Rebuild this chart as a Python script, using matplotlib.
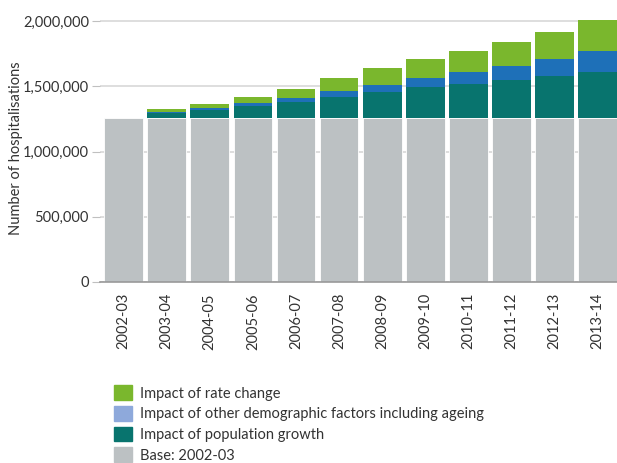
import numpy as np
import matplotlib.pyplot as plt
from matplotlib.patches import Patch
from matplotlib.ticker import FuncFormatter

plt.rcParams['font.family'] = ['Lato', 'DejaVu Sans']

years = ['2002-03', '2003-04', '2004-05', '2005-06', '2006-07', '2007-08',
         '2008-09', '2009-10', '2010-11', '2011-12', '2012-13', '2013-14']
base = [1260000] * 12
pop_growth = [0, 38000, 61000, 91000, 122000, 160000, 199000, 237000, 260000, 291000, 321000, 352000]
other_demog = [0, 3000, 15000, 23000, 31000, 46000, 54000, 69000, 92000, 107000, 130000, 161000]
rate_change = [0, 23000, 31000, 46000, 69000, 100000, 130000, 146000, 161000, 184000, 207000, 238000]

c_base = '#bcc1c3'
c_pop = '#08746e'
c_other = '#1e70b8'
c_other_legend = '#8ea9db'
c_rate = '#7ab72d'
text_col = '#333333'

fig = plt.figure(figsize=(6.17, 4.63), dpi=100)
ax = fig.add_axes([0.162, 0.391, 0.838, 0.577])

x = np.arange(len(years))
w = 0.9
b0 = np.array(base)
b1 = b0 + np.array(pop_growth)
b2 = b1 + np.array(other_demog)
ax.bar(x, base, w, color=c_base, edgecolor='white', linewidth=0.6, zorder=2)
ax.bar(x, pop_growth, w, bottom=b0, color=c_pop, linewidth=0, zorder=2)
ax.bar(x, other_demog, w, bottom=b1, color=c_other, linewidth=0, zorder=2)
ax.bar(x, rate_change, w, bottom=b2, color=c_rate, linewidth=0, zorder=2)

ax.set_xlim(-0.55, 11.45)
ax.set_ylim(0, 2050000)
ax.set_yticks([0, 500000, 1000000, 1500000, 2000000])
ax.yaxis.set_major_formatter(FuncFormatter(lambda v, p: f'{int(v):,}'))
ax.grid(axis='y', color='#d8d8d8', linewidth=1.2, zorder=0)
for s in ['top', 'right', 'left']:
    ax.spines[s].set_visible(False)
ax.spines['bottom'].set_color('#999999')
ax.spines['bottom'].set_linewidth(1.2)
ax.tick_params(axis='y', length=6, color='#c0c0c0', labelsize=10.5, labelcolor=text_col, pad=2)
ax.tick_params(axis='x', length=0, labelsize=10.5, labelcolor=text_col, pad=8)
ax.set_xticks(x)
ax.set_xticklabels(years, rotation=90)
ax.set_ylabel('Number of hospitalisations', fontsize=10.5, color=text_col)
ax.yaxis.set_label_coords(-0.149, 0.5)

handles = [Patch(color=c_rate), Patch(color=c_other_legend), Patch(color=c_pop), Patch(color=c_base)]
labels = ['Impact of rate change', 'Impact of other demographic factors including ageing',
          'Impact of population growth', 'Base: 2002-03']
fig.legend(handles, labels, loc='upper left', bbox_to_anchor=(0.185, 0.168), frameon=False,
           fontsize=10.5, labelcolor=text_col, handlelength=1.2, handleheight=1.2,
           handletextpad=0.6, labelspacing=0.36, borderaxespad=0, borderpad=0)

fig.savefig('out.png', dpi=100)
